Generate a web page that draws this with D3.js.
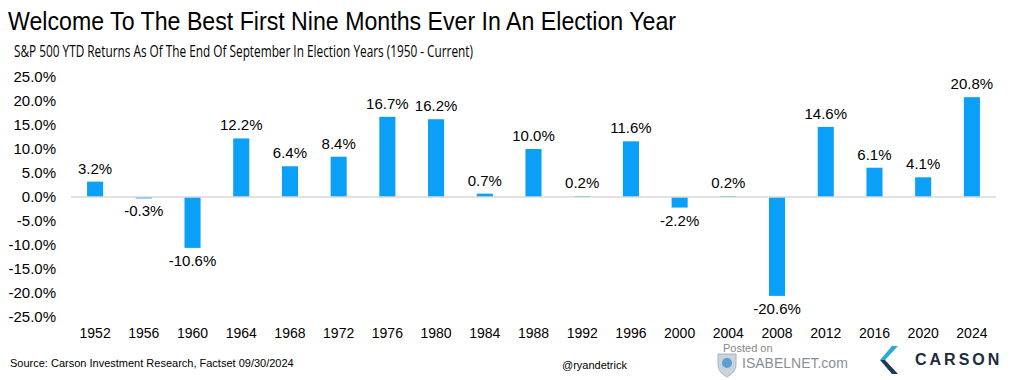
<!DOCTYPE html>
<html>
<head>
<meta charset="utf-8">
<script src="https://cdn.jsdelivr.net/npm/d3@7"></script>
<style>
  body { margin: 0; background: #fff; }
  svg { display: block; }
  text { font-family: "Liberation Sans", Arial, sans-serif; fill: #000; }
</style>
</head>
<body>
<div id="chart"></div>
<script>
var years = ["1952","1956","1960","1964","1968","1972","1976","1980","1984","1988",
             "1992","1996","2000","2004","2008","2012","2016","2020","2024"];
var returns = [3.2, -0.3, -10.6, 12.2, 6.4, 8.4, 16.7, 16.2, 0.7, 10.0,
               0.2, 11.6, -2.2, 0.2, -20.6, 14.6, 6.1, 4.1, 20.8];
var yTicks = [25, 20, 15, 10, 5, 0, -5, -10, -15, -20, -25];

var width = 1024, height = 380;
var barColor = "#0aa0f8";

// plain hyphen minus like the original
function pct(d){ return d.toFixed(1) + "%"; }

var svg = d3.select("#chart").append("svg")
  .attr("width", width)
  .attr("height", height);

// titles
svg.append("text")
  .attr("x", 8).attr("y", 30)
  .attr("textLength", 668)
  .attr("lengthAdjust", "spacingAndGlyphs")
  .style("font-size", "25px")
  .text("Welcome To The Best First Nine Months Ever In An Election Year");

svg.append("text")
  .attr("x", 14).attr("y", 57)
  .attr("textLength", 459)
  .attr("lengthAdjust", "spacingAndGlyphs")
  .style("font-family", "'Open Sans', sans-serif")
  .style("font-size", "16px")
  .text("S&P 500 YTD Returns As Of The End Of September In Election Years (1950 - Current)");

var x = d3.scaleBand()
  .domain(years)
  .range([71, 996])
  .paddingInner(0.67)
  .paddingOuter(0.33);

var y = d3.scaleLinear()
  .domain([-25, 25])
  .range([317, 77]);

// y axis labels
var yAxis = svg.append("g")
  .attr("transform", "translate(56,0)")
  .call(d3.axisLeft(y).tickValues(yTicks).tickSize(0).tickPadding(0)
    .tickFormat(pct));
yAxis.select(".domain").remove();
yAxis.selectAll("text")
  .style("font-size", "15px")
  .style("font-family", "'Liberation Sans', Arial, sans-serif")
  .attr("fill", "#000");

// bars
svg.selectAll("rect.bar")
  .data(returns)
  .enter()
  .append("rect")
    .attr("class", "bar")
    .attr("x", function(d, i){ return x(years[i]); })
    .attr("width", x.bandwidth())
    .attr("y", function(d){ return y(Math.max(0, d)); })
    .attr("height", function(d){ return Math.abs(y(d) - y(0)); })
    .attr("fill", barColor);

// zero line
svg.append("line")
  .attr("x1", 71).attr("x2", 996)
  .attr("y1", y(0)).attr("y2", y(0))
  .attr("stroke", "#d9d9d9")
  .attr("stroke-width", 1.5);

// value labels
svg.selectAll("text.val")
  .data(returns)
  .enter()
  .append("text")
    .attr("class", "val")
    .attr("x", function(d, i){ return x(years[i]) + x.bandwidth() / 2; })
    .attr("y", function(d){ return d >= 0 ? y(d) - 8 : y(d) + 18; })
    .attr("text-anchor", "middle")
    .style("font-size", "15px")
    .text(pct);

// x axis labels
var xAxis = svg.append("g")
  .attr("transform", "translate(0,328)")
  .call(d3.axisBottom(x).tickSize(0).tickPadding(0));
xAxis.select(".domain").remove();
xAxis.selectAll("text")
  .attr("dy", "0.71em")
  .style("font-size", "14px")
  .style("font-family", "'Liberation Sans', Arial, sans-serif")
  .attr("fill", "#000");

// footer
svg.append("text")
  .attr("x", 10).attr("y", 367)
  .style("font-size", "11px")
  .text("Source: Carson Investment Research, Factset 09/30/2024");

svg.append("text")
  .attr("x", 562).attr("y", 369)
  .style("font-size", "11px")
  .text("@ryandetrick");

svg.append("text")
  .attr("x", 723).attr("y", 352)
  .style("font-size", "11px")
  .style("fill", "#888")
  .text("Posted on");

// isabelnet shield
var shield = svg.append("g").attr("transform", "translate(727,363)");
shield.append("path")
  .attr("d", "M-9,-9 L9,-9 L9,2 Q9,9 0,14 Q-9,9 -9,2 Z")
  .attr("fill", "#c9d3dc")
  .attr("stroke", "#aab4be");
shield.append("circle").attr("r", 5).attr("cy", 0).attr("fill", "#5a9fd4");

svg.append("text")
  .attr("x", 742).attr("y", 368)
  .style("font-size", "14px")
  .style("fill", "#8a8f96")
  .text("ISABELNET.com");

// carson logo
var carson = svg.append("g").attr("transform", "translate(880,346)");
carson.append("path").attr("d", "M12,0 L18,0 L5,14 L0,14 Z").attr("fill", "#2aa8e0");
carson.append("path").attr("d", "M0,14 L5,14 L18,28 L12,28 Z").attr("fill", "#1d3b56");
svg.append("text")
  .attr("x", 915).attr("y", 365)
  .style("font-size", "16px")
  .style("font-weight", "bold")
  .style("letter-spacing", "3px")
  .style("fill", "#1d2b3a")
  .text("CARSON");
</script>
</body>
</html>
